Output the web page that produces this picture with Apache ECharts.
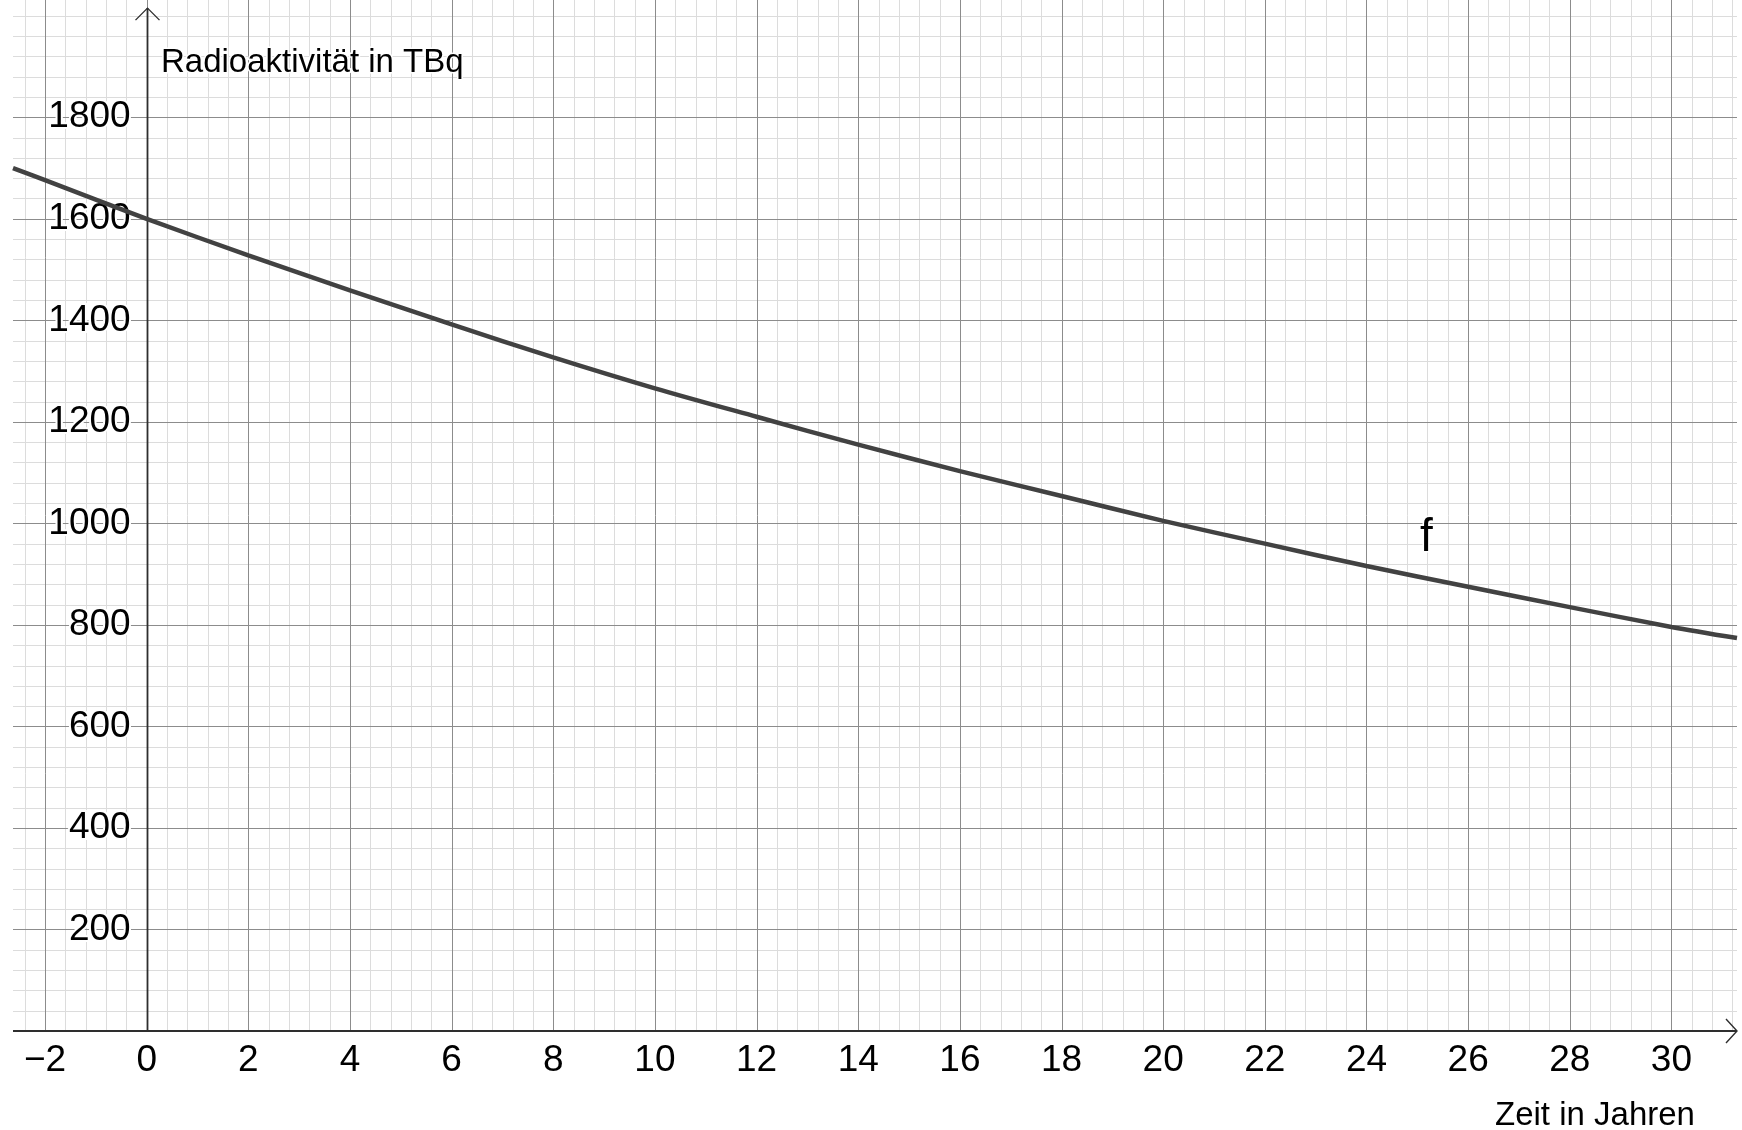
<!DOCTYPE html>
<html><head><meta charset="utf-8">
<script src="https://cdn.jsdelivr.net/npm/echarts@6/dist/echarts.min.js"></script>
<style>html,body{margin:0;padding:0;background:#fff}#c{width:1742px;height:1130px}</style>
</head><body><div id="c"></div>
<script>
// ---- data ----
const timeYears   = [-2.63, -2, 0, 2, 4, 6, 8, 10, 12, 14, 16, 18, 20, 22, 24, 26, 28, 30, 31.29];
const activityTBq = [1700, 1676, 1600, 1528, 1459, 1392, 1327, 1266, 1210, 1155, 1103, 1054, 1005, 960, 916, 875, 835, 796, 774];
const xTickLabels = [-2, 0, 2, 4, 6, 8, 10, 12, 14, 16, 18, 20, 22, 24, 26, 28, 30];
const yTickLabels = [200, 400, 600, 800, 1000, 1200, 1400, 1600, 1800];
const xAxisTitle = 'Zeit in Jahren';
const yAxisTitle = 'Radioaktivität in TBq';
const curveName = 'f';

// ---- view window ----
const X_MIN = -2.63, X_MAX = 31.29, Y_MIN = 0, Y_MAX = 2031, Y_TIP = 2015;
const GRID_LEFT = 13, GRID_RIGHT = 5, GRID_TOP = 0, GRID_BOTTOM = 99;
const GRID_W = 1742 - GRID_LEFT - GRID_RIGHT;
const Y_AXIS_OFFSET = -((0 - X_MIN) / (X_MAX - X_MIN)) * GRID_W; // put y labels at x = 0
const MAJOR = '#8c8c8c', MINOR = '#dcdcdc', AXIS = '#2e2e2e';
const FONT = "'Liberation Sans', Arial, sans-serif";

// grid lines: [direction, value, isMajor]
const gridLines = [];
for (let k = -6; k <= 78; k++) {
  const v = Math.round(k * 0.4 * 100) / 100;
  if (v <= X_MIN || v >= X_MAX) continue;
  gridLines.push([0, v, k % 5 === 0 ? 1 : 0]);
}
for (let k = 1; k <= 50; k++) {
  const v = k * 40;
  gridLines.push([1, v, (k % 5 === 0 && v <= 1800) ? 1 : 0]);
}

const curveData = timeYears.map((t, i) => [t, activityTBq[i]]);
const crisp = v => Math.round(v) + 0.5;

const chart = echarts.init(document.getElementById('c'), null, {renderer: 'canvas'});
chart.setOption({
  backgroundColor: '#ffffff',
  animation: false,
  title: [
    {text: yAxisTitle, left: 156, top: 41, z: 8, textStyle: {fontFamily: FONT, fontSize: 33, fontWeight: 'normal', color: '#000', textBorderColor: '#fff', textBorderWidth: 3}},
    {text: xAxisTitle, left: 1490, top: 1094, z: 8, textStyle: {fontFamily: FONT, fontSize: 33, fontWeight: 'normal', color: '#000'}},
    {text: curveName, left: 1415, top: 510, z: 8, textStyle: {fontFamily: FONT, fontSize: 46, fontWeight: 'normal', color: '#000', textBorderColor: '#fff', textBorderWidth: 3}}
  ],
  grid: {left: GRID_LEFT, right: GRID_RIGHT, top: GRID_TOP, bottom: GRID_BOTTOM, containLabel: false, outerBoundsMode: 'none'},
  xAxis: {
    type: 'value', min: X_MIN, max: X_MAX, z: 2,
    axisLine: {show: true, onZero: true, lineStyle: {opacity: 0}},
    axisTick: {show: false},
    splitLine: {show: false},
    axisLabel: {
      customValues: xTickLabels,
      margin: 11,
      fontFamily: FONT, fontSize: 37, color: '#000',
      formatter: v => (v < 0 ? '\u2212' + Math.abs(v) : String(v))
    }
  },
  yAxis: {
    type: 'value', min: Y_MIN, max: Y_MAX, z: 2,
    position: 'left',
    offset: Y_AXIS_OFFSET,
    axisLine: {show: true, onZero: false, lineStyle: {opacity: 0}},
    axisTick: {show: false},
    splitLine: {show: false},
    axisLabel: {
      customValues: yTickLabels,
      margin: 16,
      padding: [6, 0, 0, 0],
      fontFamily: FONT, fontSize: 37, color: '#000',
      textBorderColor: '#fff', textBorderWidth: 4,
      formatter: v => String(v)
    }
  },
  series: [
    {
      type: 'custom', name: 'grid', silent: true, z: 1,
      data: gridLines,
      renderItem: function (params, api) {
        const dir = api.value(0), v = api.value(1), major = api.value(2);
        const stroke = major ? MAJOR : MINOR;
        if (dir === 0) {
          const a = api.coord([v, Y_MIN]), b = api.coord([v, Y_MAX]);
          const x = crisp(a[0]);
          return {type: 'line', z2: major ? 2 : 1, shape: {x1: x, y1: a[1], x2: x, y2: b[1]}, style: {stroke: stroke, lineWidth: 1}};
        }
        const a = api.coord([X_MIN, v]), b = api.coord([X_MAX, v]);
        const y = crisp(a[1]);
        return {type: 'line', z2: major ? 2 : 1, shape: {x1: a[0], y1: y, x2: b[0], y2: y}, style: {stroke: stroke, lineWidth: 1}};
      }
    },
    {
      type: 'custom', name: 'axes', silent: true, z: 3,
      data: [[0, 0]],
      renderItem: function (params, api) {
        const o = api.coord([0, 0]);
        const xs = api.coord([X_MIN, 0]);
        const xe = api.coord([X_MAX, 0]);
        const yt = api.coord([0, Y_TIP]);
        const ox = Math.round(o[0]) + 0.5, oy = Math.round(o[1]);
        const st = {stroke: AXIS, lineWidth: 1.8, fill: null};
        const stArrow = {stroke: AXIS, lineWidth: 1.4, fill: null};
        return {
          type: 'group',
          children: [
            {type: 'line', shape: {x1: xs[0], y1: oy, x2: xe[0], y2: oy}, style: st},
            {type: 'line', shape: {x1: ox, y1: oy, x2: ox, y2: yt[1]}, style: st},
            {type: 'polyline', shape: {points: [[xe[0] - 11, oy - 12], [xe[0], oy], [xe[0] - 11, oy + 12]]}, style: stArrow},
            {type: 'polyline', shape: {points: [[ox - 12, yt[1] + 12], [ox, yt[1]], [ox + 12, yt[1] + 12]]}, style: stArrow}
          ]
        };
      }
    },
    {
      type: 'line', name: curveName, z: 4,
      data: curveData,
      smooth: 0.3,
      symbol: 'none',
      lineStyle: {color: '#424242', width: 4.5}
    }
  ]
});
</script>
</body></html>
